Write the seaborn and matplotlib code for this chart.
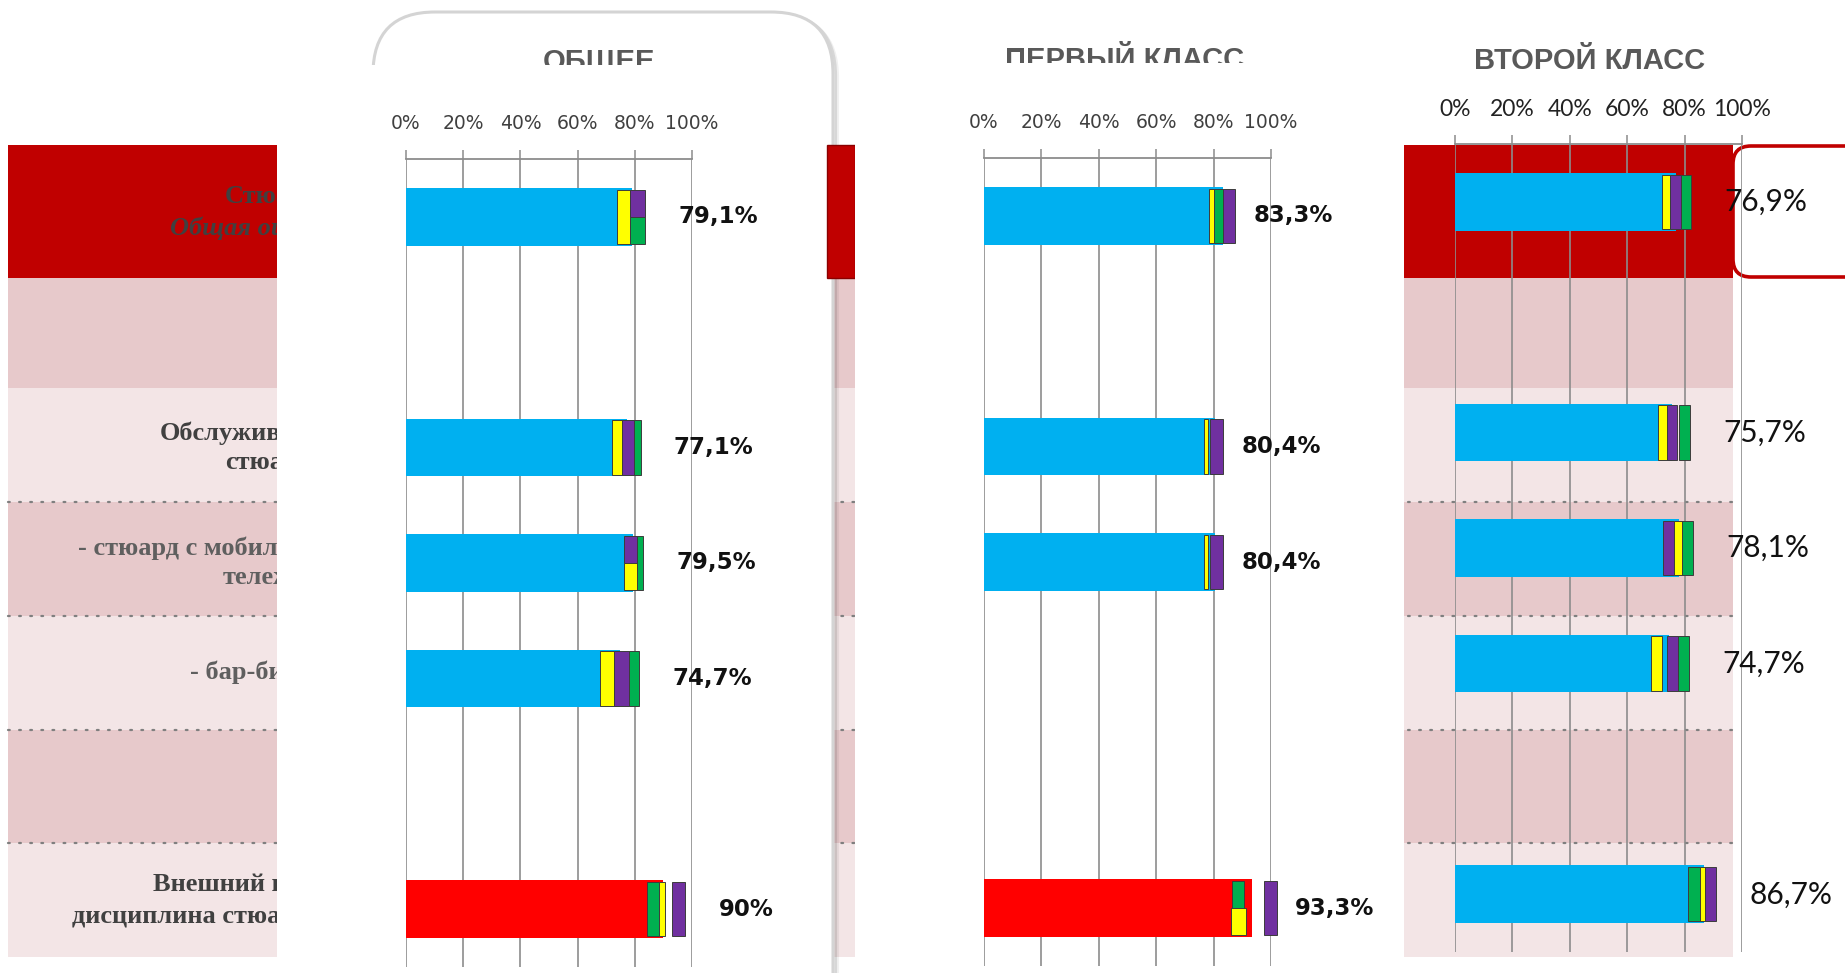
import numpy as np
import pandas as pd
import matplotlib
matplotlib.use("Agg")
import matplotlib.pyplot as plt
from matplotlib.patches import Rectangle, FancyBboxPatch
import seaborn as sns

# ---------------------------------------------------------------- data
row_order = ["Стюарды", "пусто_1", "Обслуживание", "Мобильная тележка",
             "Бар-бистро", "пусто_2", "Внешний вид"]

panel_titles = ["ОБЩЕЕ", "ПЕРВЫЙ КЛАСС", "ВТОРОЙ КЛАСС"]

total_rows = ["Стюарды", "Обслуживание", "Мобильная тележка", "Бар-бистро", "Внешний вид"]
total_scores = [79.1, 77.1, 79.5, 74.7, 90.0]

first_rows = ["Стюарды", "Обслуживание", "Мобильная тележка", "Внешний вид"]
first_scores = [83.3, 80.4, 80.4, 93.3]

second_rows = ["Стюарды", "Обслуживание", "Мобильная тележка", "Бар-бистро", "Внешний вид"]
second_scores = [76.9, 75.7, 78.1, 74.7, 86.7]

highlight_rows = {"ОБЩЕЕ": ["Внешний вид"], "ПЕРВЫЙ КЛАСС": ["Внешний вид"], "ВТОРОЙ КЛАСС": []}

# comparison segments: (row, series, from %, to %, part of bar height)
total_marks = [
    ("Стюарды", "yellow", 73.9, 78.3, "full"), ("Стюарды", "purple", 78.3, 83.6, "top"),
    ("Стюарды", "green", 78.3, 83.6, "bottom"),
    ("Обслуживание", "yellow", 72.0, 75.4, "full"), ("Обслуживание", "purple", 75.4, 79.8, "full"),
    ("Обслуживание", "green", 79.8, 82.0, "full"),
    ("Мобильная тележка", "purple", 76.2, 80.8, "top"), ("Мобильная тележка", "yellow", 76.2, 80.8, "bottom"),
    ("Мобильная тележка", "green", 80.8, 82.9, "full"),
    ("Бар-бистро", "yellow", 67.8, 72.8, "full"), ("Бар-бистро", "purple", 72.8, 78.0, "full"),
    ("Бар-бистро", "green", 78.0, 81.5, "full"),
    ("Внешний вид", "green", 84.2, 88.5, "full"), ("Внешний вид", "yellow", 88.5, 90.6, "full"),
    ("Внешний вид", "purple", 92.9, 97.6, "full"),
]
first_marks = [
    ("Стюарды", "yellow", 78.5, 80.1, "full"), ("Стюарды", "green", 80.1, 83.2, "full"),
    ("Стюарды", "purple", 83.2, 87.5, "full"),
    ("Обслуживание", "yellow", 76.7, 78.2, "full"), ("Обслуживание", "purple", 78.7, 83.4, "full"),
    ("Мобильная тележка", "yellow", 76.7, 78.2, "full"), ("Мобильная тележка", "purple", 78.7, 83.4, "full"),
    ("Внешний вид", "green", 86.3, 90.7, "top"), ("Внешний вид", "yellow", 86.2, 91.2, "bottom"),
    ("Внешний вид", "purple", 97.6, 102.2, "full"),
]
second_marks = [
    ("Стюарды", "yellow", 72.2, 74.9, "full"), ("Стюарды", "purple", 74.9, 78.7, "full"),
    ("Стюарды", "green", 78.7, 82.2, "full"),
    ("Обслуживание", "yellow", 70.8, 73.8, "full"), ("Обслуживание", "purple", 73.8, 77.2, "full"),
    ("Обслуживание", "green", 78.1, 81.9, "full"),
    ("Мобильная тележка", "purple", 72.4, 76.3, "full"), ("Мобильная тележка", "yellow", 76.3, 79.0, "full"),
    ("Мобильная тележка", "green", 79.0, 82.8, "full"),
    ("Бар-бистро", "yellow", 68.2, 72.2, "full"), ("Бар-бистро", "purple", 74.0, 77.8, "full"),
    ("Бар-бистро", "green", 77.8, 81.4, "full"),
    ("Внешний вид", "green", 81.3, 85.2, "full"), ("Внешний вид", "yellow", 85.2, 87.2, "full"),
    ("Внешний вид", "purple", 87.2, 90.9, "full"),
]

x_ticks = [0, 20, 40, 60, 80, 100]
x_tick_labels = ["0%", "20%", "40%", "60%", "80%", "100%"]

# ---------------------------------------------------------------- styling
BLUE, RED = "#00B0F0", "#FF0000"
SERIES = {"yellow": "#FFFF00", "purple": "#7030A0", "green": "#00B050"}
DARK_RED = "#C00000"
BAND_DARK, BAND_LIGHT = "#E7C9CB", "#F3E5E6"
GRID = "#8C8C8C"

W, H = 1845, 973
fig = plt.figure(figsize=(W / 100, H / 100), dpi=100)
fig.patch.set_facecolor("white")

bg = fig.add_axes([0, 0, 1, 1], zorder=-5)
bg.set_xlim(0, W)
bg.set_ylim(H, 0)
bg.axis("off")

# table rows behind the charts
bounds = [145, 278, 388, 502, 616, 730, 843, 957]
for i in range(7):
    top, bot = bounds[i], bounds[i + 1]
    if i == 0:
        col = DARK_RED
    else:
        col = BAND_DARK if i % 2 == 1 else BAND_LIGHT
    bg.add_patch(Rectangle((8, top), 1733 - 8, bot - top, fc=col, ec="none", zorder=1))
for yline in bounds[3:7]:
    bg.plot([8, 1733], [yline, yline], color="#7F7F7F", lw=1.6,
            linestyle=(0, (0.8, 4.2)), dash_capstyle="round", zorder=1.5)

# row captions of the table (partly hidden behind the first chart)
serif = "Liberation Serif"
captions = [
    ("Стюарды", 225, 197, "#404040", "normal"),
    ("Общая оценка", 170, 228, "#404040", "italic"),
    ("Обслуживание", 160, 433, "#404040", "normal"),
    ("стюардами", 225, 463, "#404040", "normal"),
    ("- стюард с мобильной", 78, 548, "#5F5F5F", "normal"),
    ("тележкой", 223, 578, "#5F5F5F", "normal"),
    ("- бар-бистро", 190, 672, "#5F5F5F", "normal"),
    ("Внешний вид и", 153, 885, "#404040", "normal"),
    ("дисциплина стюардов", 72, 917, "#404040", "normal"),
]
for txt, x, y, c, st in captions:
    bg.text(x, y, txt, ha="left", va="center", fontsize=19, fontweight="bold",
            style=st, family=serif, color=c, zorder=1.8)

# rounded card around the first chart (with a soft shadow)
for k, a in [(4, 0.06), (2, 0.10)]:
    bg.add_patch(FancyBboxPatch((373 + k, 12 + k), 460, 1040,
                                boxstyle="round,pad=0,rounding_size=62",
                                fc="none", ec="#000000", lw=3, alpha=a, zorder=1.9))
bg.add_patch(FancyBboxPatch((373, 12), 460, 1040, boxstyle="round,pad=0,rounding_size=62",
                            fc="white", ec="#D4D4D4", lw=2.2, zorder=2))
bg.add_patch(Rectangle((827, 145), 28, 133, fc=DARK_RED, ec="#8A0000", lw=1, zorder=3))
# outlined highlight on the right of the first row
bg.add_patch(FancyBboxPatch((1733, 146), 150, 131, boxstyle="round,pad=0,rounding_size=18",
                            fc="white", ec=DARK_RED, lw=2.6, zorder=3))

title_kw = dict(ha="center", va="center", fontsize=21, fontweight="bold",
                family="Liberation Sans", color="#595959")
bg.text(599, 62, panel_titles[0], zorder=3.5, **title_kw)
bg.text(1125, 60, panel_titles[1], zorder=3.5, **title_kw)
bg.text(1590, 61, panel_titles[2], zorder=6, **title_kw)

# white chart canvases
bg.add_patch(Rectangle((277, 65), 826 - 277, H - 65, fc="white", ec="none", zorder=4))
bg.add_patch(Rectangle((855, 63), 1404 - 855, H - 63, fc="white", ec="none", zorder=4))


def px_axes(x0, y0, x1, y1):
    return fig.add_axes([x0 / W, 1 - y1 / H, (x1 - x0) / W, (y1 - y0) / H])


panels = [
    dict(title=panel_titles[0], rows=total_rows, scores=total_scores, marks=total_marks,
         box=(406, 159, 692, 967), tick_font="DejaVu Sans", tick_size=13.5, tick_color="#404040",
         tick_pad=12, lab_font="DejaVu Sans", lab_weight="bold", lab_size=16.5, lab_off=24),
    dict(title=panel_titles[1], rows=first_rows, scores=first_scores, marks=first_marks,
         box=(984, 158, 1271, 966), tick_font="DejaVu Sans", tick_size=13.5, tick_color="#404040",
         tick_pad=12, lab_font="DejaVu Sans", lab_weight="bold", lab_size=16.5, lab_off=13),
    dict(title=panel_titles[2], rows=second_rows, scores=second_scores, marks=second_marks,
         box=(1455, 144, 1742, 952), tick_font="Lato", tick_size=16.5, tick_color="#222222",
         tick_pad=11, lab_font="Lato", lab_weight="normal", lab_size=21.5, lab_off=24),
]

BAR_H = 0.5
MARK_H = 0.47

for p in panels:
    ax = px_axes(*p["box"])
    ax.set_facecolor("none")
    df = pd.DataFrame({"row": p["rows"], "score": p["scores"]})
    pal = {r: (RED if r in highlight_rows[p["title"]] else BLUE) for r in p["rows"]}
    sns.barplot(data=df, x="score", y="row", order=row_order, hue="row", palette=pal,
                legend=False, width=BAR_H, saturation=1, orient="h", ax=ax, zorder=2)

    pos = {r: i for i, r in enumerate(row_order)}
    ends = {r: s for r, s in zip(p["rows"], p["scores"])}
    for row, series, lo, hi, part in p["marks"]:
        y = pos[row]
        h = MARK_H
        if part == "top":
            y, h = y - MARK_H / 4, MARK_H / 2
        elif part == "bottom":
            y, h = y + MARK_H / 4, MARK_H / 2
        ax.barh(y, hi - lo, left=lo, height=h, color=SERIES[series], edgecolor="#3C3C3C",
                linewidth=0.7, zorder=3, clip_on=False)
        ends[row] = max(ends[row], hi)

    for row, score in zip(p["rows"], p["scores"]):
        txt = (f"{score:.0f}%" if float(score).is_integer()
               else f"{score:.1f}".replace(".", ",") + "%")
        ax.annotate(txt, xy=(ends[row], pos[row]), xytext=(p["lab_off"], 0),
                    textcoords="offset points", ha="left", va="center",
                    fontsize=p["lab_size"], fontweight=p["lab_weight"],
                    family=p["lab_font"], color="#111111", annotation_clip=False)

    ax.set_xlim(0, 100)
    ax.set_ylim(6.5, -0.5)
    ax.xaxis.tick_top()
    ax.set_xticks(x_ticks)
    ax.set_xticklabels(x_tick_labels, family=p["tick_font"], fontsize=p["tick_size"],
                       color=p["tick_color"])
    ax.tick_params(axis="x", direction="out", length=6.5, width=1.1, color=GRID,
                   pad=p["tick_pad"])
    ax.tick_params(axis="y", left=False, labelleft=False)
    ax.set_xlabel("")
    ax.set_ylabel("")
    ax.grid(axis="x", color=GRID, lw=1.2)
    ax.grid(axis="y", visible=False)
    ax.set_axisbelow(True)
    for side in ["left", "right", "bottom"]:
        ax.spines[side].set_visible(False)
    ax.spines["top"].set_color(GRID)
    ax.spines["top"].set_linewidth(1.3)

fig.savefig("out.png", dpi=100, facecolor="white")
